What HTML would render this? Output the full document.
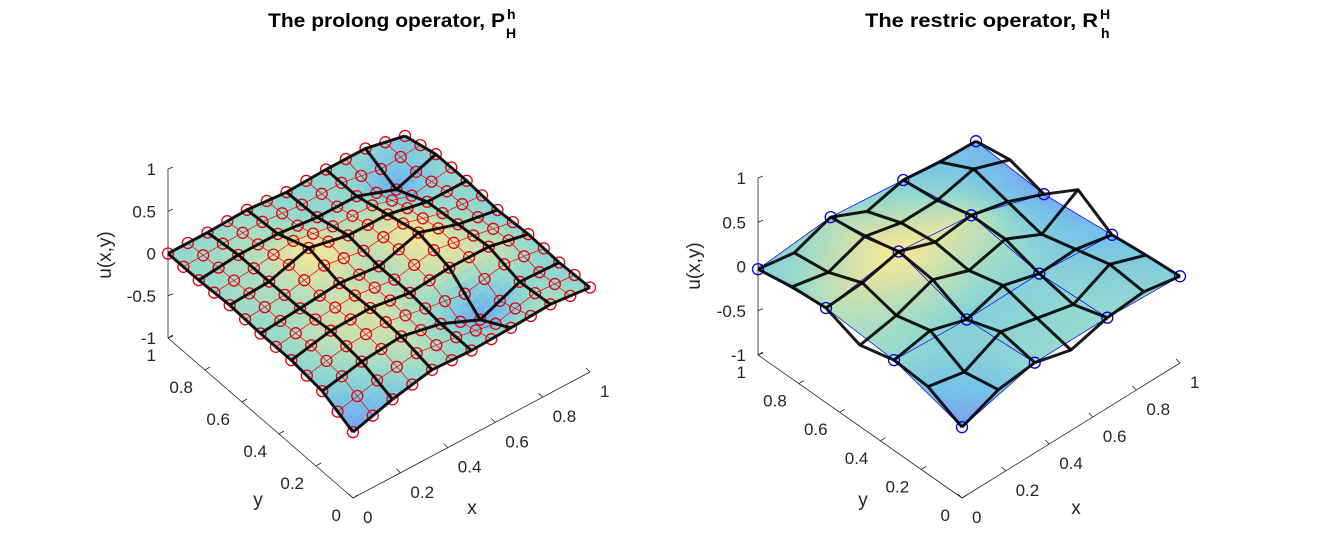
<!DOCTYPE html>
<html><head><meta charset="utf-8"><style>
html,body{margin:0;padding:0;background:#fff;}
svg{display:block;font-family:"Liberation Sans",sans-serif;}
</style></head><body>
<svg id="fig" width="1340" height="560" viewBox="0 0 1340 560">
<rect width="1340" height="560" fill="#fff"/>
<text x="268" y="27" font-size="19" font-weight="bold" textLength="237" lengthAdjust="spacingAndGlyphs">The prolong operator, P</text>
<text x="507" y="19" font-size="14" font-weight="bold">h</text>
<text x="506" y="38" font-size="14" font-weight="bold">H</text>
<text x="865" y="27" font-size="19" font-weight="bold" textLength="233" lengthAdjust="spacingAndGlyphs">The restric operator, R</text>
<text x="1100" y="19" font-size="14" font-weight="bold">H</text>
<text x="1101" y="38" font-size="14" font-weight="bold">h</text>
</svg>
<script>
// ---- data (z values, rows = y index, cols = x index) ----
const coarseLeft = [
 [-0.22,-0.08, 0.02, 0.00, 0.02, 0.05, 0.00],
 [-0.05, 0.05, 0.10, 0.00,-0.20, 0.00,-0.02],
 [ 0.00, 0.10, 0.12, 0.05, 0.10, 0.10, 0.00],
 [ 0.00, 0.05, 0.10, 0.05, 0.20, 0.05,-0.03],
 [ 0.02, 0.05, 0.20, 0.10, 0.10, 0.00, 0.00],
 [ 0.00, 0.05, 0.05, 0.00, 0.00,-0.17, 0.00],
 [ 0.00, 0.00, 0.02,-0.02, 0.00, 0.00,-0.10]
];
const fineRight = [
 [-0.20,-0.03, 0.02,-0.09, 0.02, 0.06,-0.02],
 [-0.01,-0.10, 0.10, 0.00,-0.10, 0.10,-0.05],
 [ 0.02, 0.10,-0.03, 0.10,-0.02, 0.00,-0.09],
 [-0.08, 0.00, 0.15, 0.00, 0.10,-0.10, 0.15],
 [ 0.07, 0.10, 0.20, 0.05, 0.10, 0.00,-0.17],
 [ 0.04,-0.05, 0.10, 0.00, 0.00, 0.10,-0.05],
 [-0.03,-0.10, 0.05,-0.14,-0.04,-0.09,-0.11]
];
const zTicks = [-1,-0.5,0,0.5,1];
const zTickLabels = ["-1","-0.5","0","0.5","1"];
const xyTicks = [0,0.2,0.4,0.6,0.8,1];
const xyTickLabels = ["0","0.2","0.4","0.6","0.8","1"];

const NS="http://www.w3.org/2000/svg";
const svg=document.getElementById('fig');
function mk(tag,attrs,parent){const e=document.createElementNS(NS,tag);for(const k in attrs)e.setAttribute(k,attrs[k]);(parent||svg).appendChild(e);return e;}

function prolong(c){const n=c.length,m=2*n-1,f=[];for(let j=0;j<m;j++){f.push([]);for(let i=0;i<m;i++){
 const a=Math.floor(j/2),b=Math.floor(i/2),a2=Math.min(a+(j%2),n-1),b2=Math.min(b+(i%2),n-1);
 f[j].push((c[a][b]+c[a][b2]+c[a2][b]+c[a2][b2])/4);}}return f;}
function restrict(f){const r=[];for(let j=0;j<f.length;j+=2){r.push([]);for(let i=0;i<f.length;i+=2)r[r.length-1].push(f[j][i]);}return r;}
function sample(g,x,y){const n=g.length-1;let fx=x*n,fy=y*n;let i=Math.min(Math.floor(fx),n-1),j=Math.min(Math.floor(fy),n-1);
 const tx=fx-i,ty=fy-j;return g[j][i]*(1-tx)*(1-ty)+g[j][i+1]*tx*(1-ty)+g[j+1][i]*(1-tx)*ty+g[j+1][i+1]*tx*ty;}

const stops=[[0,[122,158,240]],[0.3,[118,196,232]],[0.55,[150,218,205]],[0.8,[215,226,168]],[1,[253,233,148]]];
function cmap(t){t=Math.max(0,Math.min(1,t));for(let k=1;k<stops.length;k++){if(t<=stops[k][0]){const a=stops[k-1],b=stops[k],u=(t-a[0])/(b[0]-a[0]);
 return 'rgb('+a[1].map((v,q)=>Math.round(v+(b[1][q]-v)*u)).join(',')+')';}}return 'rgb(253,233,148)';}

function drawPlot(cfg){
 const P=(x,y,z)=>[cfg.ox+cfg.xv[0]*x+cfg.yv[0]*y, cfg.oy+cfg.xv[1]*x+cfg.yv[1]*y-cfg.zs*(z+1)];
 const g=mk('g',{});
 
 
 const ax=mk('g',{},g);
 
 
 const c01=P(0,1,-1),c00=P(0,0,-1),c10=P(1,0,-1),ct=P(0,1,1);
 const zl=mk('line',{x1:c01[0],y1:c01[1],x2:ct[0],y2:ct[1],stroke:'#222','stroke-width':0.8},ax);
 
 const yl=mk('line',{x1:c01[0],y1:c01[1],x2:c00[0],y2:c00[1],stroke:'#222','stroke-width':0.8},ax);
 
 const xl=mk('line',{x1:c00[0],y1:c00[1],x2:c10[0],y2:c10[1],stroke:'#222','stroke-width':0.8},ax);
 
 zTicks.forEach((v,k)=>{const p=P(0,1,v);
  mk('line',{x1:p[0],y1:p[1],x2:p[0]+5,y2:p[1]-2,stroke:'#222','stroke-width':0.8},ax);
  const t=mk('text',{x:p[0]-12,y:p[1]+6,'font-size':17,'text-anchor':'end',fill:'#262626'},ax);t.textContent=zTickLabels[k];
  });
 xyTicks.forEach((v,k)=>{
  const p=P(v,0,-1);mk('line',{x1:p[0],y1:p[1],x2:p[0]-4,y2:p[1]-4,stroke:'#222','stroke-width':0.8},ax);
  const t=mk('text',{x:p[0]+10,y:p[1]+25,'font-size':17,'text-anchor':'start',fill:'#262626'},ax);t.textContent=xyTickLabels[k];
  
  const q=P(0,v,-1);mk('line',{x1:q[0],y1:q[1],x2:q[0]+5,y2:q[1]-3,stroke:'#222','stroke-width':0.8},ax);
  const s=mk('text',{x:q[0]-12,y:q[1]+23,'font-size':17,'text-anchor':'end',fill:'#262626'},ax);s.textContent=xyTickLabels[k];
  });
 const xt=mk('text',{x:cfg.xlab[0],y:cfg.xlab[1],'font-size':19,'text-anchor':'middle',fill:'#262626'},ax);xt.textContent='x';
 
 const yt=mk('text',{x:cfg.ylab[0],y:cfg.ylab[1],'font-size':19,'text-anchor':'middle',fill:'#262626'},ax);yt.textContent='y';
 
 const zt=mk('text',{x:0,y:0,'font-size':19,'text-anchor':'middle',fill:'#262626',transform:'translate('+cfg.zlab[0]+','+cfg.zlab[1]+') rotate(-90)'},ax);zt.textContent='u(x,y)';
 

 const sg=mk('g',{},g);
 
 
 const surf=cfg.surf;let mn=1e9,mx=-1e9;surf.forEach(r=>r.forEach(v=>{mn=Math.min(mn,v);mx=Math.max(mx,v);}));
 const N=36,quads=[];
 for(let j=0;j<N;j++)for(let i=0;i<N;i++){const x0=i/N,x1=(i+1)/N,y0=j/N,y1=(j+1)/N;
  const zs=[sample(surf,x0,y0),sample(surf,x1,y0),sample(surf,x1,y1),sample(surf,x0,y1)];
  quads.push({d:x0+y0,pts:[P(x0,y0,zs[0]),P(x1,y0,zs[1]),P(x1,y1,zs[2]),P(x0,y1,zs[3])],z:(zs[0]+zs[1]+zs[2]+zs[3])/4});}
 quads.sort((a,b)=>b.d-a.d);
 quads.forEach(q=>{const c=cmap((q.z-mn)/(mx-mn));
  const e=mk('polygon',{points:q.pts.map(p=>p[0].toFixed(1)+','+p[1].toFixed(1)).join(' '),fill:c,stroke:c,'stroke-width':0.6},sg);
  });

 const mg=cfg.mark,n=mg.length;
 const lg=mk('g',{},g);
 
 
 for(let j=0;j<n;j++){let a='',b='';for(let i=0;i<n;i++){const p=P(i/(n-1),j/(n-1),mg[j][i]),q=P(j/(n-1),i/(n-1),mg[i][j]);
  a+=(i?'L':'M')+p[0].toFixed(1)+','+p[1].toFixed(1);b+=(i?'L':'M')+q[0].toFixed(1)+','+q[1].toFixed(1);}
  mk('path',{d:a,fill:'none',stroke:cfg.mcol,'stroke-width':0.7},lg);mk('path',{d:b,fill:'none',stroke:cfg.mcol,'stroke-width':0.7},lg);}
 const bm=cfg.mesh,nb=bm.length;
 const bg=mk('g',{},g);
 
 
 for(let j=0;j<nb;j++){let a='',b='';for(let i=0;i<nb;i++){const p=P(i/(nb-1),j/(nb-1),bm[j][i]),q=P(j/(nb-1),i/(nb-1),bm[i][j]);
  a+=(i?'L':'M')+p[0].toFixed(1)+','+p[1].toFixed(1);b+=(i?'L':'M')+q[0].toFixed(1)+','+q[1].toFixed(1);}
  const e1=mk('path',{d:a,fill:'none',stroke:'#000','stroke-width':3,'stroke-linejoin':'round','stroke-opacity':0.9},bg);
  
  const e2=mk('path',{d:b,fill:'none',stroke:'#000','stroke-width':3,'stroke-linejoin':'round','stroke-opacity':0.9},bg);
  }
 for(let j=0;j<n;j++)for(let i=0;i<n;i++){const p=P(i/(n-1),j/(n-1),mg[j][i]);
  const c=mk('circle',{cx:p[0].toFixed(1),cy:p[1].toFixed(1),r:5.5,fill:'none',stroke:cfg.mcol,'stroke-width':1.3},lg);
  }
}

const leftFine=prolong(coarseLeft);
drawPlot({name:'left-plot',ox:353,oy:498,xv:[237,-126],yv:[-185,-160],zs:84.5,
 surf:leftFine,mark:leftFine,mesh:coarseLeft,mcol:'#e8000b',xlab:[472,514],ylab:[258,506],zlab:[111,255]});
const rightCoarse=restrict(fineRight);
drawPlot({name:'right-plot',ox:962,oy:498,xv:[218,-135],yv:[-204,-143],zs:88.5,
 surf:rightCoarse,mark:rightCoarse,mesh:fineRight,mcol:'#0000ee',xlab:[1076,514],ylab:[863,506],zlab:[700,266]});
</script>
</body></html>
